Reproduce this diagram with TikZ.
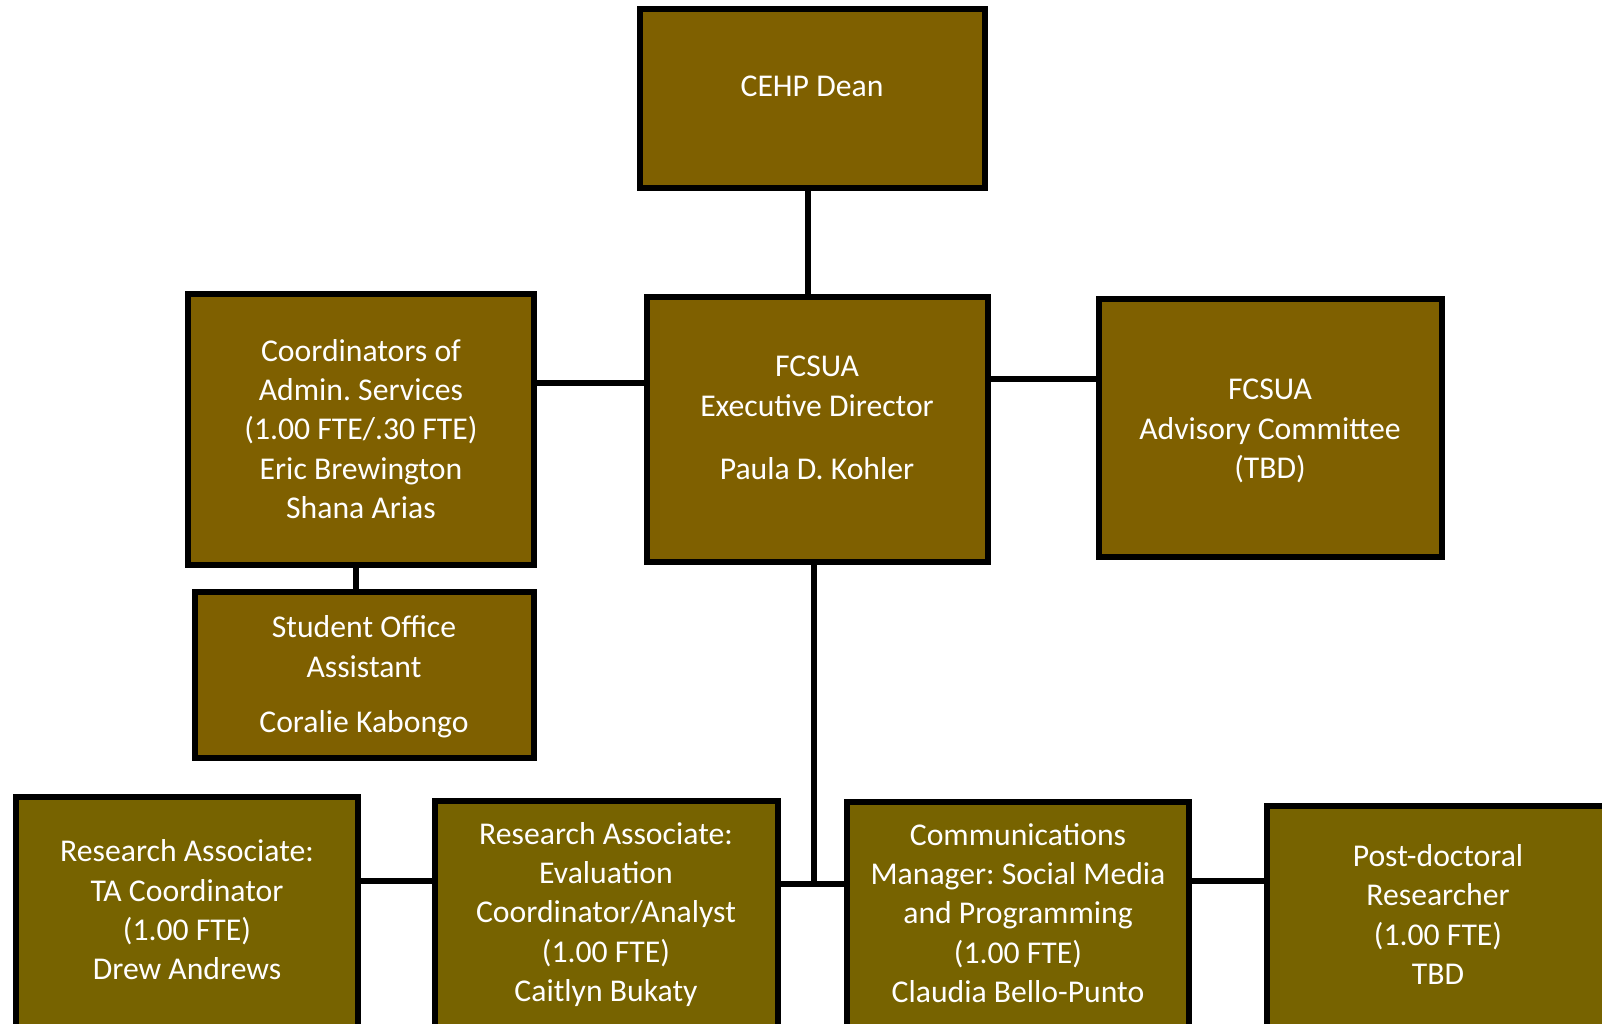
\documentclass[tikz,border=0pt]{standalone}
\usepackage{fontspec}
\setmainfont{Carlito}
\frenchspacing
\definecolor{boxbrown}{HTML}{7F6000}
\definecolor{boxbrownb}{HTML}{776300}
\begin{document}
\begin{tikzpicture}[x=1pt,y=-1pt,
  box/.style={draw=black, line width=6pt, fill=boxbrown, inner sep=0pt, outer sep=0pt},
  lowbox/.style={box, fill=boxbrownb},
  txt/.style={text=white, align=center, inner sep=0pt, font=\fontsize{31.7}{39.4}\selectfont},
  conn/.style={draw=black, line width=6pt}]
\useasboundingbox (0,0) rectangle (1602,1024);
\clip (0,0) rectangle (1602,1024);
\fill[white] (0,0) rectangle (1602,1024);

% boxes
\node[box, minimum width=345pt, minimum height=179pt] (dean) at (812.5,98.5) {};
\node[box, minimum width=341pt, minimum height=265pt] (exec) at (817.5,429.5) {};
\node[box, minimum width=343pt, minimum height=258pt] (adv) at (1270.5,428) {};
\node[box, minimum width=346pt, minimum height=271pt] (coord) at (361,429.5) {};
\node[box, minimum width=339pt, minimum height=166pt] (student) at (364.5,675) {};
\node[lowbox, minimum width=342pt, minimum height=243pt] (rata) at (187,918.5) {};
\node[lowbox, minimum width=343pt, minimum height=239pt] (eval) at (606.5,920.5) {};
\node[lowbox, minimum width=342pt, minimum height=238pt] (comm) at (1018,921) {};
\node[lowbox, minimum width=342pt, minimum height=234pt] (postdoc) at (1438,923) {};

% texts
\node[txt] (tdean) at (812,89) {\strut CEHP Dean};
\node[txt] (texec) at (817,420) {\strut FCSUA\\\strut Executive Director\\[23.5pt]\strut Paula D. Kohler};
\node[txt] (tadv) at (1270,431.5) {\strut FCSUA\\\strut Advisory Committee\\\strut (TBD)};
\node[txt] (tcoord) at (361,432) {\strut Coordinators of\\\strut Admin. Services\\\strut (1.00 FTE/.30 FTE)\\\strut Eric Brewington\\\strut Shana Arias};
\node[txt] (tstudent) at (364,677) {\strut Student Office\\\strut Assistant\\[15.6pt]\strut Coralie Kabongo};
\node[txt] (trata) at (187,913) {\strut Research Associate:\\\strut TA Coordinator\\\strut (1.00 FTE)\\\strut Drew Andrews};
\node[txt] (teval) at (606,915) {\strut Research Associate:\\\strut Evaluation\\\strut Coordinator/Analyst\\\strut (1.00 FTE)\\\strut Caitlyn Bukaty};
\node[txt] (tcomm) at (1018,916) {\strut Communications\\\strut Manager: Social Media\\\strut and Programming\\\strut (1.00 FTE)\\\strut Claudia Bello-Punto};
\node[txt] (tpostdoc) at (1438,917.5) {\strut Post-doctoral\\\strut Researcher\\\strut (1.00 FTE)\\\strut TBD};

% connectors
\coordinate (bus) at (814,884);
\coordinate (bl) at (396,881);
\coordinate (br) at (1228,881);
\draw[conn] ([xshift=-4.5pt]dean.south) -- ([xshift=-9.5pt]exec.north);
\draw[conn] ([yshift=46.5pt]coord.east) -- ([yshift=46.5pt]exec.west);
\draw[conn] ([yshift=50.5pt]exec.east) -- ([yshift=49pt]adv.west);
\draw[conn] ([xshift=-5pt]coord.south) -- ([xshift=-8.5pt]student.north);
\draw[conn] ([xshift=-3.5pt]exec.south) -- (bus);
\draw[conn] (eval.east |- bus) -- (comm.west |- bus);
\draw[conn] (rata.east |- bl) -- (eval.west |- bl);
\draw[conn] (comm.east |- br) -- (postdoc.west |- br);
\end{tikzpicture}
\end{document}
